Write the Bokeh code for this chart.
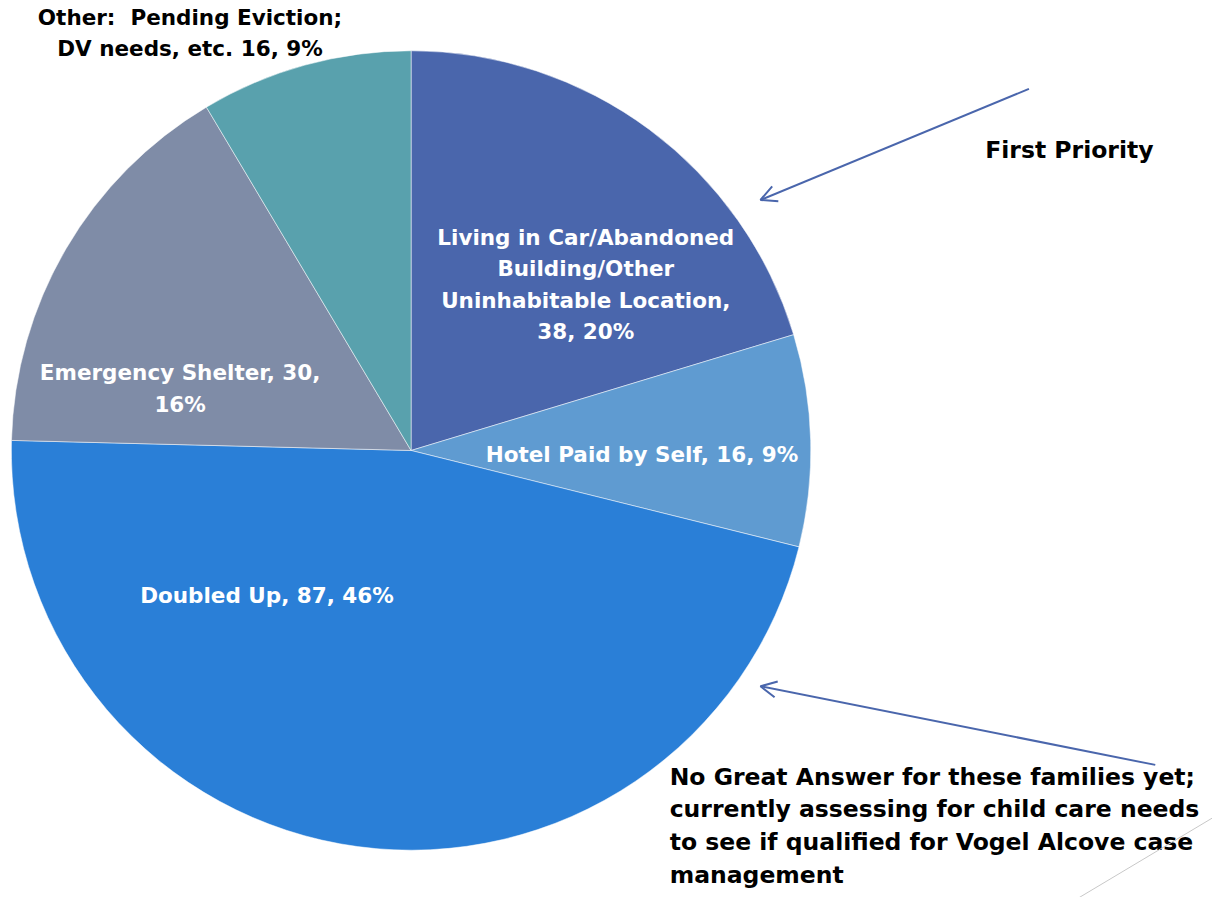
import math
from bokeh.plotting import figure
from bokeh.models import Range1d, Arrow, OpenHead, ColumnDataSource
from bokeh.core.properties import value
from bokeh.embed import file_html
from bokeh.resources import INLINE

categories = ["Living in Car/Abandoned Building/Other Uninhabitable Location",
              "Hotel Paid by Self", "Doubled Up", "Emergency Shelter",
              "Other:  Pending Eviction; DV needs, etc."]
counts = [38, 16, 87, 30, 16]
percents = ["20%", "9%", "46%", "16%", "9%"]
colors = ["#4A66AC", "#5F9BD1", "#2A7FD7", "#7F8CA7", "#59A1AD"]
label_text = ["Living in Car/Abandoned\nBuilding/Other\nUninhabitable Location,\n38, 20%",
              "Hotel Paid by Self, 16, 9%",
              "Doubled Up, 87, 46%",
              "Emergency Shelter, 30,\n16%",
              "Other:\u00a0 Pending Eviction;\nDV needs, etc. 16, 9%"]
label_colors = ["white", "white", "white", "white", "black"]

W, H = 1212, 897
SX, SY = W / 1228, H / 913
def X(px): return px * SX
def Y(py): return H - py * SY

p = figure(width=W, height=H, x_range=Range1d(0, W), y_range=Range1d(0, H),
           output_backend="svg", toolbar_location=None, min_border=0)
p.axis.visible = False
p.grid.visible = False
p.outline_line_color = None

total = sum(counts)
starts, ends = [], []
a = math.pi / 2
for c in counts:
    ang = 2 * math.pi * c / total
    starts.append(a)
    ends.append(a - ang)
    a -= ang

src = ColumnDataSource(dict(start=starts, end=ends, color=colors, cat=categories))
cx, cy, r = X(416), Y(458), 405 * SX
p.wedge(x=cx, y=cy, radius=r, start_angle="start", end_angle="end",
        direction="clock", fill_color="color", line_color="white", line_width=0.5,
        source=src)

lab_x = [X(593), X(650), X(270), X(182), X(192)]
lab_y = [Y(289), Y(462), Y(606), Y(395), Y(33)]
p.text(x=lab_x, y=lab_y, text=label_text, text_color=label_colors,
       text_font=value("DejaVu Sans"), text_font_style="bold",
       text_font_size="21.5px", text_align="center", text_baseline="middle",
       text_line_height=1.26)

p.text(x=[X(1083)], y=[Y(152)], text=["First Priority"], text_color="black",
       text_font=value("DejaVu Sans"), text_font_style="bold",
       text_font_size="23.5px", text_align="center", text_baseline="middle")
p.text(x=[X(678)], y=[Y(840)],
       text=["No Great Answer for these families yet;\ncurrently assessing for child care needs\nto see if qualified for Vogel Alcove case\nmanagement"],
       text_color="black", text_font=value("DejaVu Sans"), text_font_style="bold",
       text_font_size="23.5px", text_align="left", text_baseline="middle",
       text_line_height=1.17)

for (x0, y0, x1, y1) in [(1042, 90, 770, 203), (1170, 778, 770, 698)]:
    p.add_layout(Arrow(end=OpenHead(size=16, line_color="#4A66AC", line_width=2),
                       x_start=X(x0), y_start=Y(y0), x_end=X(x1), y_end=Y(y1),
                       line_color="#4A66AC", line_width=2))

p.line(x=[X(1228), X(1093)], y=[Y(832), Y(913)], line_color="#C8C8C8", line_width=1)

open("out.html", "w").write(file_html(p, INLINE))
